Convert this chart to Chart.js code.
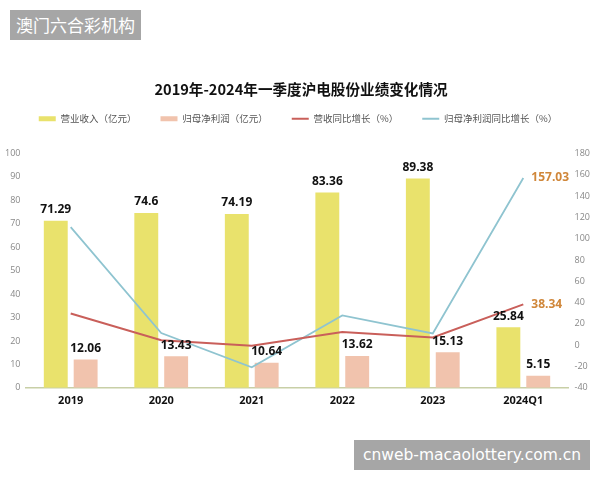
<!DOCTYPE html>
<html>
<head>
<meta charset="utf-8">
<script src="https://cdn.jsdelivr.net/npm/chart.js@4.4.1/dist/chart.umd.min.js"></script>
<style>
  body { margin: 0; background: #fff; }
  #wrap { position: relative; width: 600px; height: 480px; }
  .mark { position: absolute; background: #a6a6a6; color: #fff; text-align: center; }
  #mark1 { left: 10px; top: 10px; width: 131px; height: 30px; line-height: 30px; font-size: 17px; font-family: "Noto Sans CJK SC", sans-serif; }
  #mark2 { left: 354px; top: 440px; width: 236px; height: 30px; line-height: 30px; font-size: 15.5px; font-family: "DejaVu Sans", sans-serif; }
</style>
</head>
<body>
<div id="wrap">
  <canvas id="myChart" width="600" height="480"></canvas>
  <div class="mark" id="mark1">澳门六合彩机构</div>
  <div class="mark" id="mark2">cnweb-macaolottery.com.cn</div>
</div>
<script>
// 年份
const years = ['2019', '2020', '2021', '2022', '2023', '2024Q1'];
// 营业收入（亿元）
const revenue = [71.29, 74.6, 74.19, 83.36, 89.38, 25.84];
// 归母净利润（亿元）
const netProfit = [12.06, 13.43, 10.64, 13.62, 15.13, 5.15];
// 营收同比增长（%）
const revenueGrowth = [29.7, 4.6, -0.5, 12.4, 7.2, 38.34];
// 归母净利润同比增长（%）
const profitGrowth = [110.9, 11.4, -20.8, 28.0, 11.1, 157.03];

const leftTicks = { min: 0, max: 100, step: 10 };
const rightTicks = { min: -40, max: 180, step: 20 };

const titleText = '2019年-2024年一季度沪电股份业绩变化情况';

const numFont = '"Open Sans", "Noto Sans CJK SC", sans-serif';
const cjkFont = '"Noto Sans CJK SC", sans-serif';

// 图例下面多留一点空
const legendSpace = {
  id: 'legendSpace',
  beforeInit(chart) {
    const fit = chart.legend.fit;
    chart.legend.fit = function () {
      fit.call(this);
      this.height += 20;
    };
  }
};

// 标题 + 柱子上的数值 + 折线末端的数值
const labelPlugin = {
  id: 'valueLabels',
  afterDraw(chart) {
    const ctx = chart.ctx;
    ctx.save();
    ctx.textAlign = 'center';
    ctx.textBaseline = 'middle';
    ctx.fillStyle = '#111';
    ctx.font = 'bold 14.6px ' + cjkFont;
    ctx.fillText(titleText, 301, 89);

    ctx.font = 'bold 12px ' + numFont;
    [0, 1].forEach((i) => {
      const meta = chart.getDatasetMeta(i);
      meta.data.forEach((bar, j) => {
        ctx.fillText(String(chart.data.datasets[i].data[j]), bar.x, bar.y - 11);
      });
    });
    ctx.textAlign = 'left';
    ctx.fillStyle = '#d0873a';
    [2, 3].forEach((i) => {
      const meta = chart.getDatasetMeta(i);
      const last = meta.data[meta.data.length - 1];
      const vals = chart.data.datasets[i].data;
      ctx.fillText(vals[vals.length - 1].toFixed(2), last.x + 8, last.y);
    });
    ctx.restore();
  }
};

const ctx = document.getElementById('myChart').getContext('2d');
new Chart(ctx, {
  type: 'bar',
  data: {
    labels: years,
    datasets: [
      {
        label: '营业收入（亿元）',
        data: revenue,
        backgroundColor: '#e9e26c',
        borderWidth: 0,
        yAxisID: 'y',
        order: 2,
        pointStyle: 'rect',
        categoryPercentage: 0.66,
        barPercentage: 0.8
      },
      {
        label: '归母净利润（亿元）',
        data: netProfit,
        backgroundColor: '#f1c3ad',
        borderWidth: 0,
        yAxisID: 'y',
        order: 2,
        pointStyle: 'rect',
        categoryPercentage: 0.66,
        barPercentage: 0.8
      },
      {
        type: 'line',
        label: '营收同比增长（%）',
        data: revenueGrowth,
        borderColor: '#c95f5a',
        backgroundColor: '#c95f5a',
        borderWidth: 2,
        pointRadius: 0,
        pointStyle: 'line',
        yAxisID: 'y1',
        order: 1
      },
      {
        type: 'line',
        label: '归母净利润同比增长（%）',
        data: profitGrowth,
        borderColor: '#8fc4d0',
        backgroundColor: '#8fc4d0',
        borderWidth: 1.8,
        pointRadius: 0,
        pointStyle: 'line',
        yAxisID: 'y1',
        order: 1
      }
    ]
  },
  options: {
    responsive: false,
    animation: false,
    layout: { padding: { left: 0, right: 4, top: 90, bottom: 67 } },
    plugins: {
      legend: {
        labels: {
          usePointStyle: true,
          pointStyleWidth: 17,
          boxHeight: 5,
          color: '#555',
          padding: 24,
          font: { size: 9.5, family: cjkFont },
          sort: (a, b) => a.datasetIndex - b.datasetIndex
        }
      },
      tooltip: { enabled: false }
    },
    scales: {
      x: {
        grid: { display: false, drawTicks: false },
        border: { display: true, color: '#c8cfa6', width: 1.5 },
        ticks: { color: '#111', font: { size: 11, weight: 'bold', family: numFont }, padding: 6 }
      },
      y: {
        position: 'left',
        min: leftTicks.min,
        max: leftTicks.max,
        grid: { display: false, drawTicks: false },
        border: { display: false },
        ticks: { stepSize: leftTicks.step, color: '#888', font: { size: 9, family: numFont }, padding: 5 }
      },
      y1: {
        position: 'right',
        min: rightTicks.min,
        max: rightTicks.max,
        grid: { display: false, drawTicks: false },
        border: { display: false },
        ticks: { stepSize: rightTicks.step, color: '#888', font: { size: 9, family: numFont }, padding: 6 }
      }
    }
  },
  plugins: [legendSpace, labelPlugin]
});
</script>
</body>
</html>
